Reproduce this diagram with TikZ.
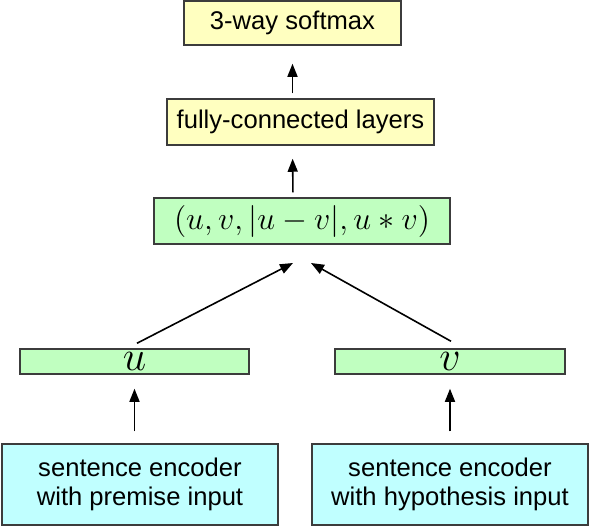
\documentclass[tikz,border=0pt]{standalone}
\usepackage{fix-cm}
\usepackage{fontspec}
\setmainfont{Liberation Sans}
\usetikzlibrary{arrows.meta,calc}
\definecolor{boxyellow}{RGB}{255,255,192}
\definecolor{boxgreen}{RGB}{192,255,192}
\definecolor{boxcyan}{RGB}{192,255,255}
\definecolor{boxline}{RGB}{60,60,60}
\tikzset{
  box/.style={draw=boxline, line width=0.75pt, inner sep=0pt, anchor=center,
    font=\fontsize{12.8}{14.5}\selectfont, align=center},
  ybox/.style={box, fill=boxyellow},
  gbox/.style={box, fill=boxgreen},
  cbox/.style={box, fill=boxcyan},
  arr/.style={-{Triangle[length=6.5pt,width=5pt]}, line width=0.8pt, black},
}
\begin{document}
\begin{tikzpicture}[x=0.5pt,y=-0.5pt]
\useasboundingbox (0,0) rectangle (590,526);
\node[ybox, minimum width=108.5pt, minimum height=22pt] (sm) at (292.5,23) {3-way softmax};
\node[ybox, minimum width=133.5pt, minimum height=23pt] (fc) at (300.5,122) {fully-connected layers};
\node[gbox, minimum width=148pt, minimum height=23pt] (cat) at (302,221)
  {\fontsize{16}{18}\selectfont$(u, v, |u-v|, u*v)$};
\node[gbox, minimum width=114.5pt, minimum height=12.5pt] (u) at (134.5,361.5)
  {\fontsize{21}{23}\selectfont$u$};
\node[gbox, minimum width=115pt, minimum height=12.5pt] (v) at (450,361.5)
  {\fontsize{21}{23}\selectfont$v$};
\node[cbox, minimum width=138pt, minimum height=40.5pt] (encp) at (140,484.5)
  {sentence encoder\\with premise input};
\node[cbox, minimum width=138pt, minimum height=40.5pt] (ench) at (450,484.5)
  {sentence encoder\\with hypothesis input};
\coordinate (tipL) at (293,263);
\coordinate (tipR) at (311,263);
\draw[arr, shorten <=2.5pt, shorten >=9pt] (sm.south |- fc.north) -- (sm.south);
\draw[arr, shorten <=2.5pt, shorten >=6.5pt] ($(cat.north)+(-9,0)$) -- ($(fc.south)+(-8,0)$);
\draw[arr] ([shift={(2.5,-5)}]u.north) -- (tipL);
\draw[arr] ([shift={(1,-7)}]v.north) -- (tipR);
\draw[arr, shorten <=6pt, shorten >=7pt] (u.south |- encp.north) -- (u.south);
\draw[arr, shorten <=6pt, shorten >=7pt] (v.south |- ench.north) -- (v.south);
\end{tikzpicture}
\end{document}
